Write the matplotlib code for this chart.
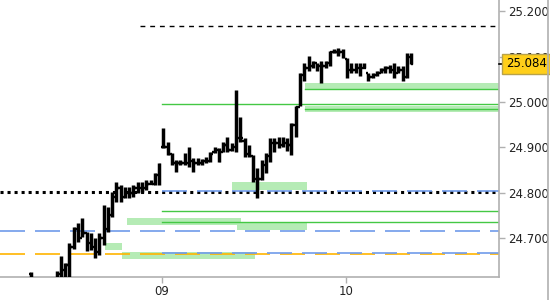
import matplotlib
matplotlib.use("Agg")
import matplotlib.pyplot as plt
import matplotlib.transforms as mtransforms
from matplotlib.lines import Line2D

# OHLC bars (one per bar index); first bars sit below the visible range
highs = [24.625, 24.600, 24.605, 24.598, 24.595, 24.610, 24.627, 24.660, 24.645, 24.689,
         24.724, 24.733, 24.744, 24.713, 24.711, 24.700, 24.711, 24.773, 24.768, 24.801,
         24.823, 24.816, 24.812, 24.812, 24.816, 24.823, 24.823, 24.827, 24.827, 24.843,
         24.865, 24.942, 24.911, 24.887, 24.871, 24.871, 24.887, 24.900, 24.876, 24.876,
         24.874, 24.878, 24.889, 24.900, 24.898, 24.911, 24.922, 24.909, 25.027, 24.966,
         24.920, 24.905, 24.882, 24.854, 24.871, 24.887, 24.920, 24.920, 24.922, 24.922,
         24.920, 24.953, 24.992, 25.063, 25.087, 25.102, 25.091, 25.087, 25.091, 25.091,
         25.113, 25.118, 25.120, 25.118, 25.096, 25.085, 25.087, 25.085, 25.085, 25.065,
         25.065, 25.069, 25.074, 25.080, 25.082, 25.087, 25.080, 25.080, 25.107, 25.109]
lows = [24.600, 24.580, 24.585, 24.578, 24.575, 24.590, 24.600, 24.605, 24.605, 24.610,
        24.676, 24.691, 24.702, 24.671, 24.674, 24.656, 24.663, 24.685, 24.713, 24.746,
        24.779, 24.779, 24.788, 24.788, 24.790, 24.799, 24.801, 24.805, 24.820, 24.816,
        24.816, 24.898, 24.882, 24.860, 24.845, 24.860, 24.860, 24.856, 24.845, 24.860,
        24.860, 24.865, 24.867, 24.887, 24.867, 24.889, 24.889, 24.893, 24.889, 24.911,
        24.878, 24.878, 24.823, 24.788, 24.827, 24.843, 24.867, 24.889, 24.898, 24.900,
        24.893, 24.882, 24.922, 24.992, 25.047, 25.069, 25.074, 25.069, 25.043, 25.076,
        25.080, 25.107, 25.102, 25.098, 25.054, 25.063, 25.063, 25.058, 25.074, 25.047,
        25.054, 25.058, 25.063, 25.063, 25.065, 25.054, 25.065, 25.047, 25.052, 25.084]
opens = [24.620, 24.610, 24.590, 24.590, 24.585, 24.600, 24.600, 24.620, 24.630, 24.640,
         24.680, 24.720, 24.700, 24.710, 24.690, 24.680, 24.670, 24.700, 24.720, 24.750,
         24.790, 24.810, 24.790, 24.800, 24.800, 24.810, 24.810, 24.810, 24.820, 24.820,
         24.840, 24.900, 24.900, 24.885, 24.865, 24.865, 24.865, 24.865, 24.870, 24.865,
         24.865, 24.870, 24.870, 24.890, 24.895, 24.890, 24.905, 24.895, 24.900, 24.920,
         24.915, 24.885, 24.880, 24.830, 24.830, 24.860, 24.880, 24.910, 24.910, 24.905,
         24.910, 24.905, 24.950, 24.990, 25.060, 25.075, 25.080, 25.085, 25.080, 25.080,
         25.085, 25.110, 25.110, 25.110, 25.095, 25.070, 25.070, 25.075, 25.075, 25.065,
         25.055, 25.060, 25.065, 25.070, 25.075, 25.070, 25.065, 25.070, 25.055, 25.100]
closes = [24.610, 24.590, 24.590, 24.585, 24.600, 24.600, 24.620, 24.630, 24.640, 24.680,
          24.720, 24.700, 24.710, 24.690, 24.680, 24.670, 24.700, 24.720, 24.750, 24.790,
          24.810, 24.790, 24.800, 24.800, 24.810, 24.810, 24.810, 24.820, 24.820, 24.840,
          24.860, 24.900, 24.885, 24.865, 24.865, 24.865, 24.865, 24.870, 24.865, 24.865,
          24.870, 24.870, 24.885, 24.895, 24.870, 24.905, 24.895, 24.900, 24.920, 24.920,
          24.885, 24.885, 24.830, 24.830, 24.860, 24.880, 24.910, 24.910, 24.905, 24.910,
          24.905, 24.950, 24.990, 25.060, 25.075, 25.080, 25.085, 25.080, 25.080, 25.085,
          25.110, 25.110, 25.110, 25.100, 25.070, 25.070, 25.075, 25.070, 25.075, 25.055,
          25.060, 25.065, 25.070, 25.075, 25.070, 25.060, 25.070, 25.055, 25.100, 25.084]
bar_idx = list(range(len(highs)))

day_ticks = [30.7, 73.8]
day_labels = ["09", "10"]
y_ticks = [24.7, 24.8, 24.9, 25.0, 25.1, 25.2]
last_price = 25.084

# full-width levels: (price, color, style)
full_levels = [
    (24.801, "black", "dotted"),
    (24.715, "#6f9bea", "blue"),
    (24.664, "#ffb400", "orange"),
]
# partial levels starting at a bar index
partial_levels = [
    (25.168, 25.5, "black", "dash"),
    (24.803, 30.7, "#6f9bea", "blue"),
    (24.667, 30.7, "#6f9bea", "blue"),
    (24.759, 30.7, "#44c844", "solid"),
    (24.735, 30.7, "#44c844", "solid"),
    (24.995, 30.7, "#44c844", "solid"),
    (25.029, 64.2, "#44c844", "solid"),
    (24.984, 64.2, "#44c844", "solid"),
]
# support/resistance zones: (start idx, end idx, bottom, top)
zone_start = [64.2, 64.2, 47.1, 22.5, 48.2, 17.3, 21.3]
zone_end = [None, None, 64.6, 49.2, 64.6, 21.3, 52.5]
zone_low = [25.027, 24.977, 24.805, 24.729, 24.718, 24.674, 24.654]
zone_high = [25.041, 24.992, 24.823, 24.744, 24.735, 24.689, 24.669]

XMIN, XMAX = -7.26, 109.6
YMIN, YMAX = 24.614, 25.225

styles = {
    "dotted": dict(lw=2.2, dashes=(1, 1.3)),
    "blue": dict(lw=1.2, dashes=(15, 6)),
    "orange": dict(lw=1.2, dashes=(15, 6)),
    "dash": dict(lw=1.0, dashes=(3.5, 3.5)),
    "solid": dict(lw=1.0),
}

fig = plt.figure(figsize=(5.5, 3), dpi=100)
ax = fig.add_axes([0, 0.0767, 0.9073, 0.9233])
ax.set_xlim(XMIN, XMAX)
ax.set_ylim(YMIN, YMAX)

for i in range(len(zone_start)):
    x1 = zone_end[i] if zone_end[i] is not None else XMAX
    ax.fill_between([zone_start[i], x1], zone_low[i], zone_high[i],
                    color="#b5ebb5", lw=0, zorder=1)

for price, color, style in full_levels:
    ax.axhline(price, color=color, zorder=2, **styles[style])
for price, start, color, style in partial_levels:
    ax.plot([start, XMAX], [price, price], color=color, zorder=2, **styles[style])

# OHLC bars
ax.vlines(bar_idx, lows, highs, color="black", lw=2.5, zorder=3)
ax.hlines(opens, [i - 0.55 for i in bar_idx], bar_idx, color="black", lw=1.7, zorder=3)
ax.hlines(closes, bar_idx, [i + 0.55 for i in bar_idx], color="black", lw=1.7, zorder=3)

for side in ["left", "top"]:
    ax.spines[side].set_visible(False)
for side in ["right", "bottom"]:
    ax.spines[side].set_color("#b0b0b0")
    ax.spines[side].set_linewidth(1.2)

ax.yaxis.tick_right()
ax.set_yticks(y_ticks)
ax.set_yticklabels([f"{v:.3f}" for v in y_ticks])
ax.set_xticks(day_ticks)
ax.set_xticklabels(day_labels)
ax.tick_params(axis="both", colors="#b0b0b0", labelcolor="#222222", labelsize=8.5,
               length=4.5, width=1)
ax.tick_params(axis="y", pad=2)
ax.tick_params(axis="x", pad=1.5)

# current price marker and label
trans = mtransforms.blended_transform_factory(ax.transAxes, ax.transData)
ax.plot([1.0, 1.012], [last_price, last_price], color="black", lw=1.2,
        transform=trans, clip_on=False, zorder=5)
ax.text(1.014, last_price, f"{last_price:.3f}", transform=trans, fontsize=8.5,
        va="center", ha="left", color="black", zorder=6,
        bbox=dict(boxstyle="square,pad=0.3", fc="#ffcf1a", ec="#b8a24a", lw=1))

fig.add_artist(Line2D([0.997, 0.997], [0, 1], color="#b0b0b0", lw=1.2,
                      transform=fig.transFigure))

fig.savefig("out.png", dpi=100)
